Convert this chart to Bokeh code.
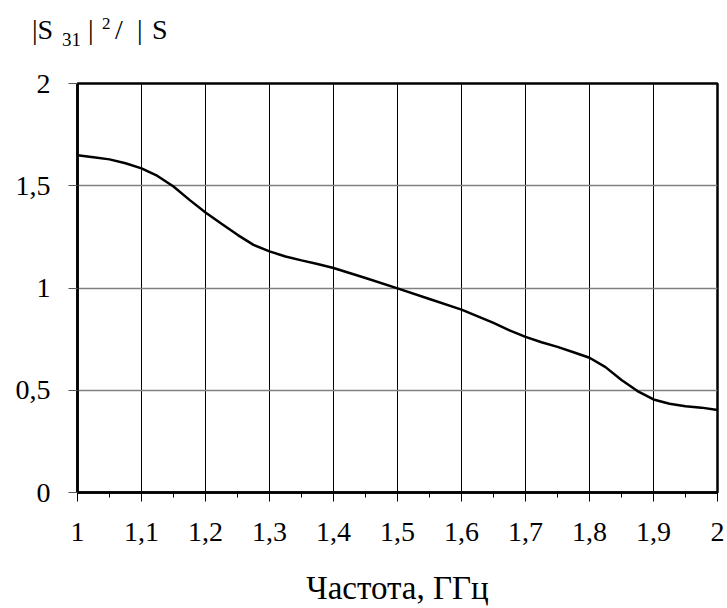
from bokeh.plotting import figure
from bokeh.models import Range1d, SingleIntervalTicker, FixedTicker, CustomJSTickFormatter, Div
from bokeh.layouts import column
from bokeh.embed import file_html
from bokeh.resources import INLINE

freq = [1.000, 1.025, 1.050, 1.075, 1.100, 1.125, 1.150, 1.175, 1.200, 1.225,
        1.250, 1.275, 1.300, 1.325, 1.350, 1.375, 1.400, 1.450, 1.500, 1.550,
        1.600, 1.650, 1.675, 1.700, 1.725, 1.750, 1.775, 1.800, 1.825, 1.850,
        1.875, 1.900, 1.925, 1.950, 1.975, 2.000]
ratio = [1.649, 1.639, 1.629, 1.610, 1.585, 1.548, 1.496, 1.431, 1.369, 1.314,
         1.260, 1.211, 1.179, 1.154, 1.135, 1.117, 1.098, 1.049, 0.998, 0.946,
         0.894, 0.829, 0.793, 0.761, 0.735, 0.712, 0.686, 0.659, 0.613, 0.550,
         0.496, 0.455, 0.434, 0.422, 0.415, 0.403]
y_ticks = [0, 0.5, 1, 1.5, 2]
x_label = "Частота, ГГц"

FONT = "Liberation Serif"
HDIV = 50

p = figure(width=727, height=608 - HDIV, output_backend="svg", toolbar_location=None,
           x_range=Range1d(1, 2), y_range=Range1d(0, 2),
           min_border_left=77, min_border_right=10, min_border_top=83 - HDIV,
           min_border_bottom=115)
p.background_fill_color = "white"
p.border_fill_color = "white"
p.outline_line_color = "black"
p.outline_line_width = 2.5

p.line(freq, ratio, line_color="black", line_width=2.5)

fmt = CustomJSTickFormatter(code="return tick.toFixed(1).replace('.', ',').replace(/,0$/, '');")

xa = p.xaxis[0]
xa.ticker = SingleIntervalTicker(interval=0.1, num_minor_ticks=2)
xa.formatter = fmt
xa.axis_line_color = "black"
xa.axis_line_width = 2.5
xa.major_tick_in = 0
xa.major_tick_out = 9
xa.minor_tick_in = 0
xa.minor_tick_out = 5
xa.major_tick_line_color = "black"
xa.minor_tick_line_color = "black"
xa.major_label_text_font = FONT
xa.major_label_text_font_size = "28px"
xa.major_label_text_color = "black"
xa.major_label_standoff = 21
xa.axis_label = x_label
xa.axis_label_text_font = FONT
xa.axis_label_text_font_size = "33px"
xa.axis_label_text_font_style = "normal"
xa.axis_label_text_color = "black"
xa.axis_label_standoff = 26

ya = p.yaxis[0]
ya.ticker = FixedTicker(ticks=y_ticks, minor_ticks=[])
ya.formatter = fmt
ya.axis_line_color = "black"
ya.axis_line_width = 2.5
ya.major_tick_in = 0
ya.major_tick_out = 9
ya.minor_tick_line_color = None
ya.major_tick_line_color = "#555555"
ya.major_label_text_font = FONT
ya.major_label_text_font_size = "28px"
ya.major_label_text_color = "black"
ya.major_label_standoff = 18

p.xgrid.ticker = SingleIntervalTicker(interval=0.1)
p.xgrid.grid_line_color = "black"
p.xgrid.grid_line_width = 1
p.ygrid.ticker = FixedTicker(ticks=y_ticks)
p.ygrid.grid_line_color = "#808080"
p.ygrid.grid_line_width = 1.5

def span(txt, left, top, size):
    return (f'<span style="position:absolute;left:{left}px;top:{top}px;'
            f'font-size:{size}px;line-height:1;white-space:pre">{txt}</span>')

title_html = (
    f'<div style="position:relative;width:727px;height:{HDIV}px;'
    f"font-family:'Liberation Serif';color:black;\">"
    + span("|S", 32, 16, 28)
    + span("31", 62, 30, 19)
    + span("|", 88, 16, 28)
    + span("2", 102, 15, 17)
    + span("/", 115, 16, 28)
    + span("|", 137, 16, 28)
    + span("S", 152, 16, 28)
    + '</div>'
)
div = Div(text=title_html, width=727, height=HDIV, margin=0)

layout = column(div, p, spacing=0, margin=0)

open("out.html", "w").write(file_html(layout, INLINE))
